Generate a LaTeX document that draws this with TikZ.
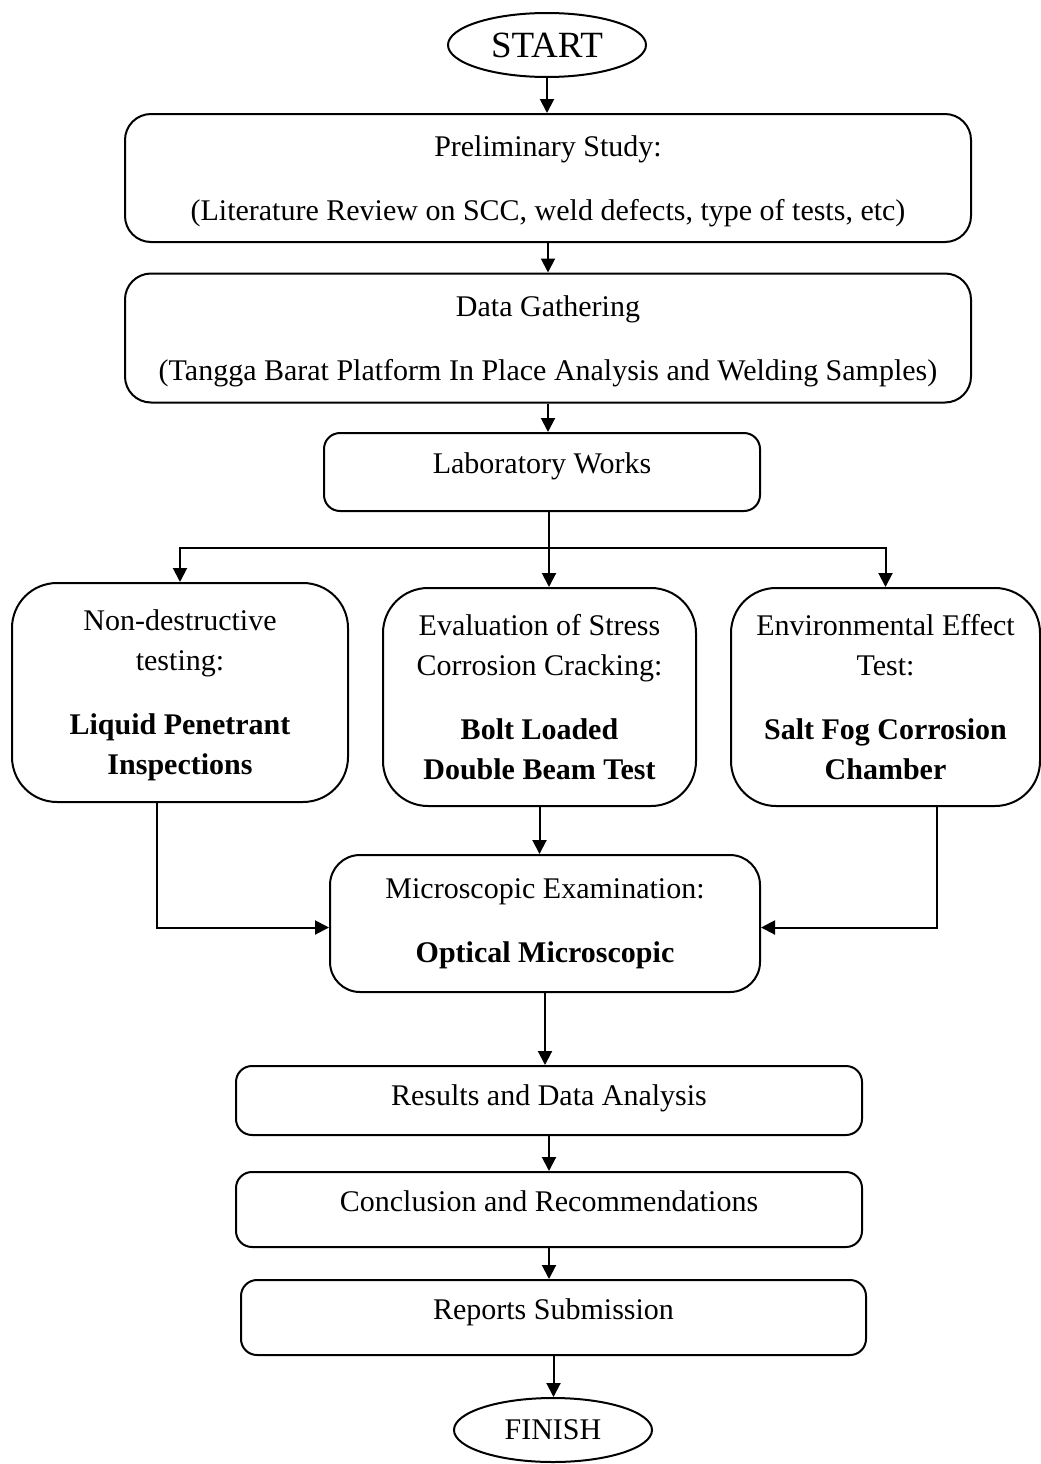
\documentclass[tikz,border=0pt]{standalone}
\usepackage{fontspec}
\setmainfont{Liberation Serif}
\usetikzlibrary{arrows.meta}
\usetikzlibrary{shapes.geometric}

\begin{document}
\begin{tikzpicture}[
      x=1pt, y=-1pt,
      line width=2pt,
      >={Triangle[length=14pt,width=14pt]},
      every node/.style={font=\fontsize{30}{40}\selectfont, align=center, inner sep=0pt},
      caixa/.style={draw, rounded corners=#1},
      caixa/.default=16pt,
      oval/.style={draw, ellipse, minimum width=198pt, minimum height=64pt},
      ergue/.style={text depth=#1}
    ]
    \useasboundingbox (0,0) rectangle (1041,1464);
    % Fluxograma
    \node[oval, font=\fontsize{37}{40}\selectfont] (start) at (547,45) {START};
    \node[caixa=26pt, ergue=-4pt, minimum width=846pt, minimum height=128pt] (prelim) at (548,178)
      {Preliminary Study:\\[24pt](Literature Review on SCC, weld defects, type of tests, etc)};
    \node[caixa=26pt, ergue=-4pt, minimum width=846pt, minimum height=129pt] (dados) at (548,338)
      {Data Gathering\\[24pt](Tangga Barat Platform In Place Analysis and Welding Samples)};
    \node[caixa, ergue=18pt, minimum width=436pt, minimum height=78pt] (lab) at (542,472)
      {Laboratory Works};
    \node[caixa=45pt, ergue=-4pt, minimum width=336pt, minimum height=219pt] (ndt) at (180,692.5)
      {Non-destructive\\testing:\\[24pt]\textbf{Liquid Penetrant}\\\textbf{Inspections}};
    \node[caixa=45pt, minimum width=313pt, minimum height=218pt] (scc) at (539.5,697)
      {Evaluation of Stress\\Corrosion Cracking:\\[24pt]\textbf{Bolt Loaded}\\\textbf{Double Beam Test}};
    \node[caixa=45pt, minimum width=309pt, minimum height=218pt] (amb) at (885.5,697)
      {Environmental Effect\\Test:\\[24pt]\textbf{Salt Fog Corrosion}\\\textbf{Chamber}};
    \node[caixa=30pt, minimum width=430pt, minimum height=137pt] (micro) at (545,923.5)
      {Microscopic Examination:\\[24pt]\textbf{Optical Microscopic}};
    \node[caixa, ergue=10pt, minimum width=626pt, minimum height=69pt] (result) at (549,1100.5)
      {Results and Data Analysis};
    \node[caixa, ergue=16pt, minimum width=626pt, minimum height=75pt] (concl) at (549,1209.5)
      {Conclusion and Recommendations};
    \node[caixa, ergue=16pt, minimum width=625pt, minimum height=75pt] (relat) at (553.5,1317.5)
      {Reports Submission};
    \node[oval] (fim) at (553,1430) {FINISH};

    \coordinate (bifurca) at (549,548);
    \draw[->] (start.south) -- (start.south |- prelim.north);
    \draw[->] (prelim.south) -- (prelim.south |- dados.north);
    \draw[->] (dados.south) -- (dados.south |- lab.north);
    \draw (lab.south -| bifurca) -- (bifurca);
    \draw[->] (bifurca) -| (ndt.north);
    \draw[->] (bifurca) -| (amb.north);
    \draw[->] (bifurca) -- (bifurca |- scc.north);
    \draw[->] ([xshift=-23pt]ndt.south) |- ([yshift=-4pt]micro.west);
    \draw[->] ([xshift=51pt]amb.south) |- ([yshift=-4pt]micro.east);
    \draw[->] (scc.south) -- (scc.south |- micro.north);
    \draw[->] (micro.south) -- (micro.south |- result.north);
    \draw[->] (result.south) -- (result.south |- concl.north);
    \draw[->] (concl.south) -- (concl.south |- relat.north);
    \draw[->] (relat.south) -- (relat.south |- fim.north);
  \end{tikzpicture}
\end{document}
